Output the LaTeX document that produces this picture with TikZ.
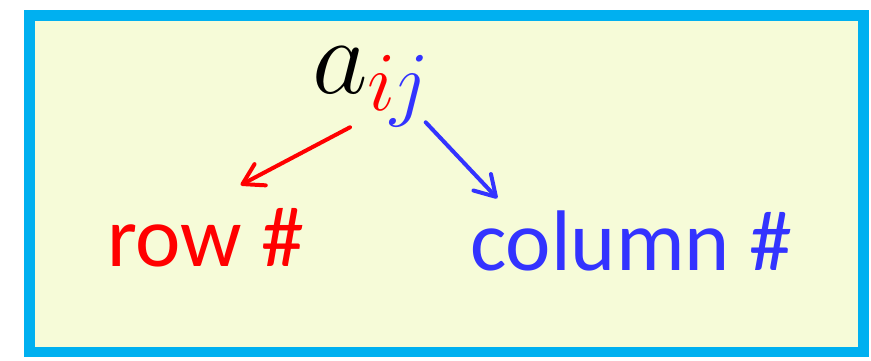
\documentclass[tikz,border=0pt]{standalone}
\usepackage{fix-cm}
\usepackage{fontspec}
\setmainfont{Carlito}
\DeclareMathSizes{108}{108}{84}{66}
\usetikzlibrary{arrows.meta}
\definecolor{frameblue}{RGB}{0,176,240}
\definecolor{paper}{RGB}{246,251,216}
\definecolor{myred}{RGB}{255,0,0}
\definecolor{myblue}{RGB}{51,51,255}
\tikzset{
  lbl/.style={inner sep=0pt, anchor=base west, font=\fontsize{86}{90}\selectfont},
  arr/.style={line width=4pt, line cap=round, -{Straight Barb[length=20pt, width=24pt, round]}}
}
\begin{document}
\begin{tikzpicture}[x=1pt, y=-1pt]
\useasboundingbox (0,0) rectangle (871,361);
\draw[line width=10.5pt, draw=frameblue, fill=paper] (29.5,15.3) rectangle (863.5,352);
\node[lbl, font=\fontsize{108}{110}\selectfont] (aij) at (312,93) {$a_{\textcolor{myred}{i}\mkern-1.2mu\textcolor{myblue}{j}}$};
\node[lbl, text=myred] (row) at (107,266) {row \#};
\node[lbl, text=myblue] (col) at (470,270.7) {column \#};
\coordinate (rs) at (350,127.3);
\coordinate (re) at (240.7,185);
\coordinate (cs) at (425.7,122.3);
\coordinate (ce) at (497.3,198.3);
\draw[arr, myred] (rs) -- (re);
\draw[arr, myblue] (cs) -- (ce);
\end{tikzpicture}
\end{document}
